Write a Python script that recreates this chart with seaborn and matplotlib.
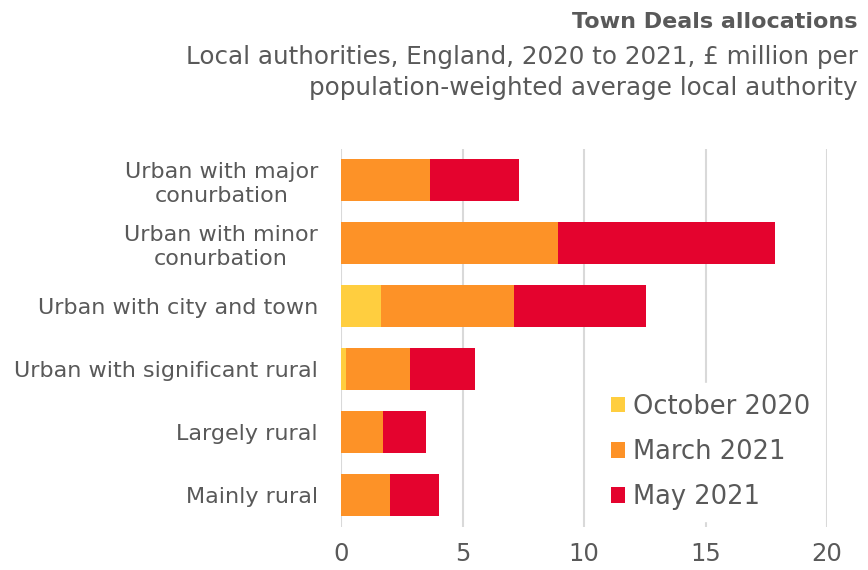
import matplotlib
matplotlib.use("Agg")
import matplotlib.pyplot as plt
import seaborn as sns
import numpy as np
import pandas as pd

categories = ["Urban with major\nconurbation", "Urban with minor\nconurbation",
              "Urban with city and town", "Urban with significant rural",
              "Largely rural", "Mainly rural"]
october_2020 = [0.0, 0.0, 1.63, 0.21, 0.0, 0.0]
march_2021 = [3.66, 8.93, 5.48, 2.63, 1.72, 2.00]
may_2021 = [3.68, 8.94, 5.44, 2.66, 1.76, 2.03]
series_names = ["October 2020", "March 2021", "May 2021"]
colors = ["#FFCE3F", "#FD9227", "#E4032E"]
x_ticks = [0, 5, 10, 15, 20]

sns.set_theme(style="white")
plt.rcParams["font.family"] = ["DejaVu Sans"]
TXT = "#595959"

df = pd.DataFrame({"cat": categories, "oct": october_2020, "mar": march_2021, "may": may_2021})
df["c1"] = df["oct"]
df["c2"] = df["oct"] + df["mar"]
df["c3"] = df["c2"] + df["may"]

fig = plt.figure(figsize=(8.68, 5.70), dpi=100)
ax = fig.add_axes([341/868, 1-527/570, (827-341)/868, (527-148.5)/570])

for col, c, name in [("c3", colors[2], series_names[2]), ("c2", colors[1], series_names[1]), ("c1", colors[0], series_names[0])]:
    sns.barplot(data=df, x=col, y="cat", color=c, orient="h", width=0.667,
                ax=ax, label=name, saturation=1, linewidth=0)

ax.set_xlim(0, 20)
ax.set_xticks(x_ticks)
ax.set_xlabel("")
ax.set_ylabel("")
ax.grid(axis="x", color="#D9D9D9", linewidth=1.5)
ax.set_axisbelow(True)
for s in ax.spines.values():
    s.set_visible(False)
ax.tick_params(axis="x", labelsize=17.5, colors=TXT, pad=11, length=0)
ax.tick_params(axis="y", labelsize=16, colors=TXT, pad=16.5, length=0)
for lab in ax.get_yticklabels():
    lab.set_multialignment("center")
    lab.set_linespacing(1.25)

h, l = ax.get_legend_handles_labels()
order = [l.index(n) for n in series_names]
leg = ax.legend([h[i] for i in order], [l[i] for i in order], loc="lower right",
                bbox_to_anchor=(1.0, 0.0), frameon=True, fontsize=18.5, labelcolor=TXT,
                handlelength=0.55, handleheight=0.55, handletextpad=0.3, labelspacing=0.75,
                borderaxespad=0.25, borderpad=0.4, facecolor="white", edgecolor="white", framealpha=1)

fig.text(858/868, 1-22/570, "Town Deals allocations", ha="right", va="center",
         fontsize=16, fontweight="bold", color=TXT)
fig.text(858/868, 1-57/570, "Local authorities, England, 2020 to 2021, £ million per",
         ha="right", va="center", fontsize=17.7, color=TXT)
fig.text(858/868, 1-88/570, "population-weighted average local authority",
         ha="right", va="center", fontsize=17.7, color=TXT)

fig.savefig("out.png", dpi=100, facecolor="white")
